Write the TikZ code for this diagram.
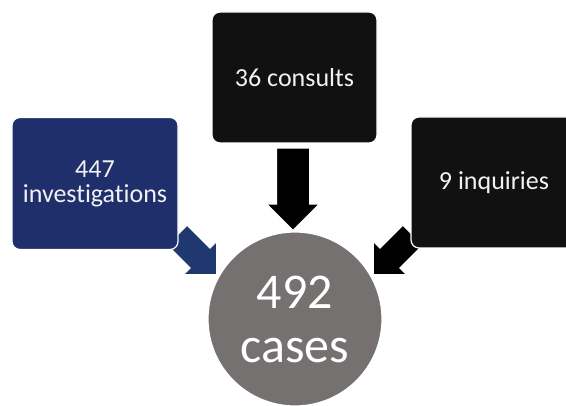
\documentclass[tikz,border=0pt]{standalone}
\usepackage{fontspec}
\setmainfont{Carlito}[Ligatures=NoCommon]
\usetikzlibrary{shapes.arrows}
\definecolor{invblue}{RGB}{31,47,108}
\definecolor{arrblue}{RGB}{31,56,112}
\definecolor{boxblack}{RGB}{17,17,17}
\definecolor{casegray}{RGB}{118,113,113}

\begin{document}
\begin{tikzpicture}[x=1pt,y=-1pt,
  box/.style={rectangle, rounded corners=8pt, draw=white, line width=1.2pt,
    minimum width=166pt, minimum height=132pt, align=center,
    text=white!95!black, font=\fontsize{26}{25}\selectfont},
  blockarrow/.style={single arrow, draw=white, line width=1pt,
    single arrow tip angle=90, inner xsep=0pt}]
\useasboundingbox (0,0) rectangle (566,406);

\node[blockarrow, fill=arrblue, inner ysep=13.5pt, single arrow head extend=9.5pt,
  minimum height=56pt, rotate=-45] (arrInv) at (192,250) {};
\node[blockarrow, fill=black, inner ysep=16pt, single arrow head extend=9.5pt,
  minimum height=82pt, rotate=-90] (arrCon) at (293,181) {};
\node[blockarrow, fill=black, inner ysep=13.5pt, single arrow head extend=9.5pt,
  minimum height=56pt, rotate=-135] (arrInq) at (398,250) {};

\node[box, fill=invblue] (inv) at (95,183.5) {447\\investigations};
\node[box, fill=boxblack, minimum width=165pt, minimum height=131pt] (con) at (294.5,77.5) {36 consults};
\node[box, fill=boxblack, minimum height=131pt] (inq) at (494,182.5) {9 inquiries};

\node[circle, fill=casegray, draw=white, line width=1.2pt, minimum size=174pt,
  align=center, text=white, font=\fontsize{50}{54}\selectfont] (cases) at (295,319) {492\\cases};
\end{tikzpicture}
\end{document}
